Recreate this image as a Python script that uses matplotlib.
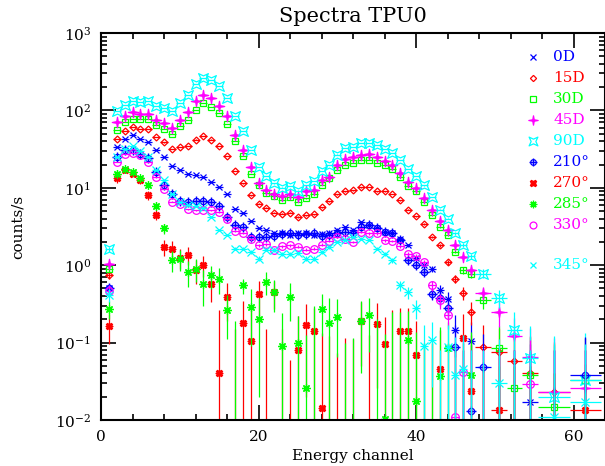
import numpy as np
import matplotlib
matplotlib.use("Agg")
import matplotlib.pyplot as plt
from matplotlib.path import Path

plt.rcParams['font.family'] = ['DejaVu Serif']
plt.rcParams['mathtext.fontset'] = 'dejavuserif'

# channels 1..47 single, then grouped bins
chan = list(range(1, 48)) + [48.5, 50.5, 52.5, 54.5, 57.5, 61.5]
chan_hw = [0.5] * 47 + [1, 1, 1, 1, 2, 2]

labels = ["0D", "15D", "30D", "45D", "90D", "210°", "270°", "285°", "330°", "345°"]

r0 = [0.5, 33.8, 43, 48, 43, 39, 30.6, 25, 19, 17.2, 15.3, 14.5, 13.6, 11.9, 10.3, 8.3,
      5.4, 4.75, 3.74, 2.98, 2.83, 2.57, 2.57, 2.44, 2.57, 2.6, 2.44, 2.5, 2.6, 2.89,
      3.13, 2.83, 3.6, 3.3, 3.0, 2.7, 2.57, 2.15, 1.81, 1.25, 1.0, 0.9, 0.48, 0.37,
      0.145, 0, 0.105,
      0, 0, 0, 0.017, 0, 0]
r15 = [0.74, 43, 54, 61, 58, 57, 45, 38.5, 32, 33.8, 35, 42, 47, 42, 35, 26,
       16.4, 11.4, 8.0, 6.2, 5.5, 4.75, 4.65, 4.75, 4.2, 4.4, 4.55, 5.6, 6.7, 8.2,
       9.0, 9.3, 10.1, 10.3, 9.0, 9.0, 8.3, 6.9, 5.2, 4.3, 3.4, 2.3, 1.8, 1.1,
       0.67, 0.44, 0.25,
       0.088, 0.075, 0.058, 0.04, 0.023, 0]
r30 = [0.9, 55.5, 71, 77, 77, 77, 64, 58, 50, 62.5, 76, 100, 123, 111, 93, 66,
       40, 25.6, 15, 10.8, 8.6, 7.9, 6.9, 7.5, 6.6, 7.3, 8.3, 10.8, 13.2, 16.9,
       20, 21, 22.7, 23.2, 21, 19.6, 17.7, 13.8, 10.6, 9.0, 6.6, 4.4, 3.1, 2.44,
       1.5, 0.86, 0.76,
       0.35, 0.085, 0.026, 0.038, 0.0148, 0.033]
r45 = [1.03, 71, 84, 94, 91, 91, 76, 68, 60, 75, 96, 131, 157, 145, 113, 84,
       48, 30.6, 18.6, 11.7, 9.3, 8.4, 7.8, 8.4, 7.6, 9.1, 9.3, 12.5, 13.8, 20,
       23.9, 25, 26.9, 27.7, 25, 22.3, 20, 15.6, 11.9, 10, 7.3, 5.1, 3.7, 2.83,
       1.81, 1.28, 0.86,
       0.44, 0.25, 0.12, 0.066, 0.023, 0.026]
r90 = [1.6, 98, 119, 132, 130, 132, 113, 108, 98, 126, 157, 222, 266, 250, 205, 144,
       85, 54, 30.6, 18.6, 14.3, 11.4, 10, 10.6, 9.2, 10.8, 12.2, 16.5, 19.6, 26.9,
       33, 34, 38, 38, 35.5, 31.5, 28.3, 22.7, 17.4, 14.3, 10.8, 7.6, 5.2, 4.0,
       2.57, 1.81, 1.3,
       0.78, 0.38, 0.145, 0.064, 0.02, 0.033]
r210 = [0.5, 25, 30.6, 31, 27, 24.5, 16, 10.8, 8.2, 6.8, 6.6, 6.7, 6.8, 6.6, 5.9, 4.2,
        3.3, 3.1, 2.3, 2.3, 2.3, 2.37, 2.5, 2.57, 2.44, 2.5, 2.6, 2.4, 2.44, 2.57,
        2.7, 2.57, 3.1, 3.3, 3.0, 2.7, 2.57, 2.1, 1.16, 1.0, 0.82, 0.43, 0.38, 0.28,
        0.088, 0, 0.013,
        0.049, 0, 0, 0, 0, 0.038]
r270 = [0.165, 13.2, 17, 15.3, 12.5, 8, 4.5, 1.72, 1.64, 1.25, 1.35, 0.87, 1.0, 0.58, 0.04, 0.39,
        0, 0.177, 0.105, 0.43, 0, 0.45, 0, 0, 0.08, 0.17, 0.14, 0.0145, 0, 0,
        0, 0, 0.19, 0, 0.176, 0.097, 0, 0.14, 0.14, 0.07, 0, 0, 0.045, 0,
        0, 0.116, 0.024,
        0, 0.0133, 0, 0, 0, 0.0133]
r285 = [0.27, 15.3, 17.7, 16, 13.2, 10.8, 5.8, 3.0, 1.16, 1.2, 0.82, 0.9, 0.58, 0.74, 0.67, 0.26,
        0, 0.55, 0.29, 0.2, 0.61, 0.45, 0.091, 0.39, 0.10, 0.026, 0, 0.27, 0.18, 0.215,
        0, 0, 0.19, 0.226, 0, 0.0104, 0, 0, 0.107, 0.0175, 0, 0, 0.037, 0.085,
        0, 0, 0.038,
        0, 0, 0, 0, 0, 0]
r330 = [0.47, 21.6, 27.7, 28.3, 26.4, 21.6, 13.6, 9.6, 6.6, 6.2, 5.3, 5.1, 5.2, 5.1, 4.8, 3.9,
        2.8, 2.6, 2.15, 1.81, 1.87, 1.59, 1.76, 1.81, 1.73, 1.59, 1.64, 1.85, 2.05, 2.3,
        2.2, 2.0, 2.7, 2.57, 2.57, 2.1, 2.06, 1.76, 1.39, 1.3, 1.1, 0.55, 0.35, 0.23,
        0.011, 0.042, 0,
        0, 0, 0, 0.029, 0, 0]
r345 = [0.41, 25, 32, 34.5, 30, 25, 17.2, 12.5, 8.4, 6.5, 6.0, 5.8, 5.5, 4.2, 2.83, 2.44,
        1.64, 1.64, 1.49, 1.22, 1.59, 1.57, 1.41, 1.41, 1.42, 1.22, 1.22, 1.49, 1.72, 2.0,
        2.14, 2.3, 2.2, 2.14, 1.64, 1.39, 1.16, 0.55, 0.45, 0.28, 0.09, 0.107, 0, 0.088,
        0.038, 0.045, 0,
        0, 0.030, 0, 0, 0.011, 0.017]

# error bars of the two faint series
e270 = [0.07, 1.5, 1.5, 1.3, 1.2, 1.0, 0.7, 0.4, 0.4, 0.35, 0.35, 0.3, 0.3, 0.25, 0.22, 0.2,
        0.15, 0.17, 0.16, 0.2, 0.15, 0.18, 0.15, 0.06, 0.14, 0.15, 0.14, 0.12, 0.12, 0.074,
        0.116, 0.11, 0.14, 0.125, 0.15, 0.12, 0.26, 0.14, 0.14, 0.12, 0.1, 0.1, 0.1, 0.1,
        0.08, 0.12, 0.1,
        0.05, 0.06, 0.05, 0.05, 0.04, 0.04]
e285 = [0.07, 1.5, 1.5, 1.3, 1.2, 1.0, 0.7, 0.45, 0.35, 0.35, 0.3, 0.3, 0.28, 0.25, 0.25, 0.15,
        0.19, 0.12, 0.2, 0.18, 0.2, 0.2, 0.15, 0.2, 0.12, 0.1, 0.3, 0.15, 0.2, 0.15,
        0.1, 0.114, 0.15, 0.15, 0.2, 0.12, 0.25, 0.25, 0.15, 0.12, 0.1, 0.1, 0.12, 0.1,
        0.1, 0.1, 0.1,
        0.05, 0.05, 0.05, 0.05, 0.04, 0.04]

rates = [r0, r15, r30, r45, r90, r210, r270, r285, r330, r345]
errs = [0.08, 0.08, 0.08, 0.09, 0.1, 0.08, e270, e285, 0.08, 0.08]


def star4(inner, rot):
    # four pointed star outline, inner radius relative to the tips
    angs = np.deg2rad(np.arange(0, 360, 45) + rot)
    rad = [1, inner] * 4
    v = [(r * np.cos(a), r * np.sin(a)) for r, a in zip(rad, angs)]
    v.append(v[0])
    return Path(v, closed=True)


thin_star = star4(0.22, 0)
cross_box = star4(0.38, 45)

colors = ['#0000ff', '#ff0000', '#00ff00', '#ff00ff', '#00ffff',
          '#0000ff', '#ff0000', '#00ff00', '#ff00ff', '#00ffff']
markers = ['x', 'D', 's', thin_star, cross_box, 'o', 'X', (8, 2, 0), 'o', 'x']
msizes = [5, 3.5, 5, 7.5, 7, 4.5, 5, 6, 5.5, 5.5]
hollow = [False, True, True, False, True, True, False, False, True, False]
# symbols drawn on top (210° is a circle with a plus)
extra = [None, None, None, None, None, '+', None, None, None, None]

fig = plt.figure(figsize=(6.05, 4.66), dpi=100)
ax = fig.add_axes([101 / 605, 1 - 420 / 466, 504 / 605, 387 / 466])
ax.set_yscale('log')

for r, e, c, m, ms, h, x2 in zip(rates, errs, colors, markers, msizes, hollow, extra):
    ax.errorbar(chan, r, yerr=e, xerr=chan_hw, fmt='none', ecolor=c, elinewidth=0.9)
    ax.plot(chan, r, ls='none', marker=m, ms=ms, color=c,
            mfc='none' if h else c, mew=0.9)
    if x2:
        ax.plot(chan, r, ls='none', marker=x2, ms=ms * 1.5, color=c, mew=1.0)

# legend, PGPLOT style: symbol + coloured label
for i, (lab, c, m, ms, h, x2) in enumerate(zip(labels, colors, markers, msizes, hollow, extra)):
    yy = 0.939 - 0.0545 * i - (0.047 if i == 9 else 0)
    ax.plot([0.857], [yy], transform=ax.transAxes, ls='none', marker=m, ms=ms * 0.9,
            color=c, mfc='none' if h else c, mew=0.9, clip_on=False)
    if x2:
        ax.plot([0.857], [yy], transform=ax.transAxes, ls='none', marker=x2,
                ms=ms * 1.3, color=c, mew=1.0, clip_on=False)
    ax.text(0.897, yy, lab, transform=ax.transAxes, color=c, fontsize=11,
            va='center', ha='left')

ax.set_xlim(0, 64)
ax.set_ylim(1e-2, 1e3)
ax.set_xticks([0, 20, 40, 60])
ax.set_xticks(np.arange(0, 65, 4), minor=True)
ax.tick_params(which='both', direction='in', top=True, right=True, width=1.2)
ax.tick_params(which='major', length=11, labelsize=11, pad=7)
ax.tick_params(which='minor', length=4.5)
for s in ax.spines.values():
    s.set_linewidth(1.5)

ax.set_xlabel("Energy channel", fontsize=11, labelpad=4)
ax.set_ylabel("counts/s", fontsize=11, labelpad=22)
ax.set_title("Spectra TPU0", fontsize=15, pad=8)

fig.savefig("out.png", dpi=100)
